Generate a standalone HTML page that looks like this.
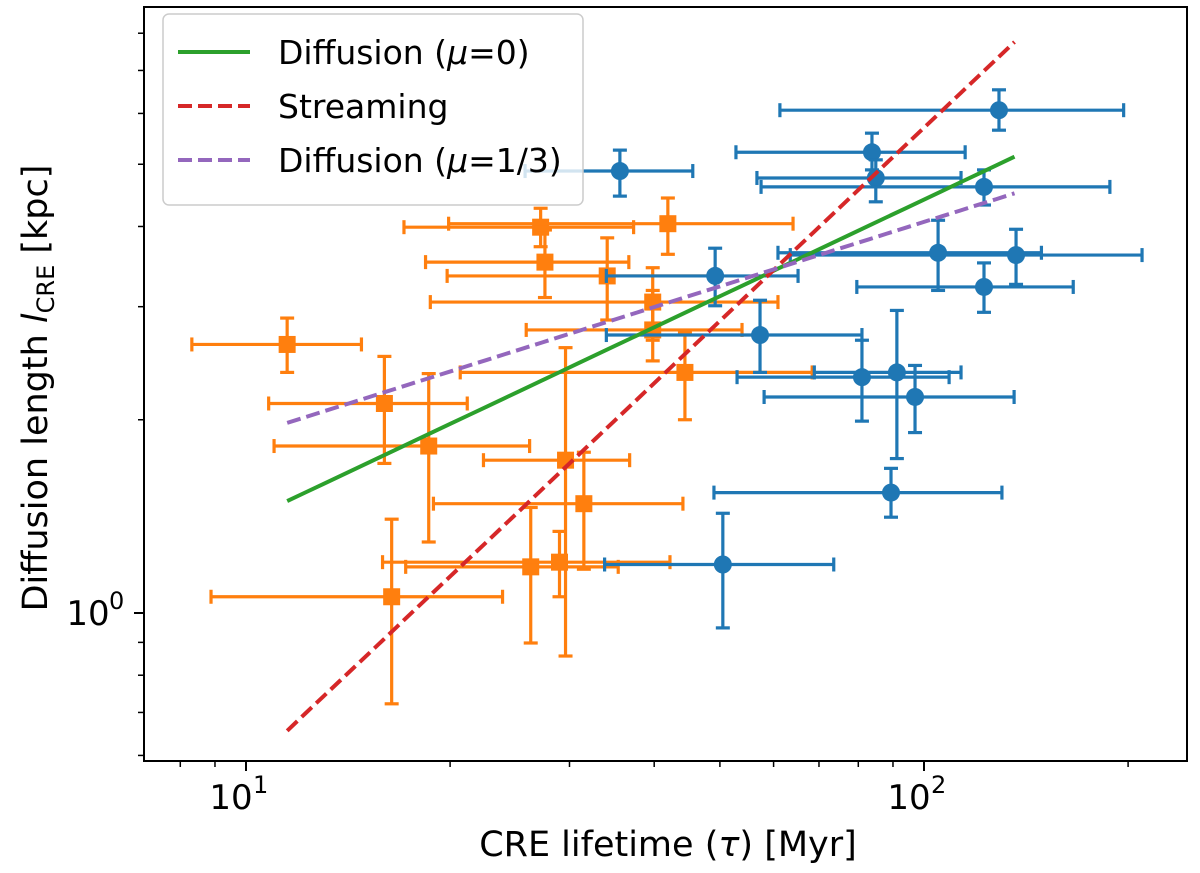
<!DOCTYPE html>
<html><head><meta charset="utf-8"><style>
body{margin:0;background:#fff}
svg{display:block;font-family:"DejaVu Sans","Liberation Sans",sans-serif}
</style></head><body>
<svg id="chart" width="1200" height="873" viewBox="0 0 1200 873">
<g id="plot"></g>
</svg>
<script>
// --- data (τ in Myr, l in kpc) ---
const orangeTau   = [11.5,16.0,18.6,27.2,27.6,41.9,34.1,39.8,39.8,44.4,29.6,31.5,26.3,29.0,16.4];
const orangeTauLo = [8.32,10.8,11.0,17.1,18.4,19.9,19.8,18.7,25.9,20.7,22.4,18.9,17.2,15.9,8.88];
const orangeTauHi = [14.8,21.2,26.2,37.3,36.7,64.1,50.0,60.9,53.9,68.4,36.8,44.1,35.4,42.2,23.9];
const orangeL     = [2.62,2.12,1.82,3.99,3.52,4.04,3.35,3.05,2.76,2.37,1.73,1.48,1.18,1.20,1.06];
const orangeLLo   = [2.37,1.71,1.29,3.72,3.10,3.62,2.86,2.66,2.47,2.00,0.857,1.17,0.898,1.06,0.722];
const orangeLHi   = [2.88,2.51,2.36,4.27,3.95,4.43,3.84,3.45,3.18,2.73,2.59,1.78,1.46,1.34,1.40];

const blueTau   = [35.6,49.2,57.3,81.0,91.2,97.0,89.4,50.5,129.0,83.8,84.9,122.6,104.9,136.7,122.6];
const blueTauLo = [25.8,34.0,34.0,53.0,68.9,58.1,49.0,33.8,61.3,52.8,56.7,57.5,60.9,63.5,79.6];
const blueTauHi = [45.6,65.2,81.0,108.9,113.4,135.8,130.3,73.6,197,115,113.4,188,149,209.7,166];
const blueL     = [4.88,3.35,2.71,2.33,2.37,2.17,1.54,1.19,6.07,5.22,4.76,4.61,3.64,3.61,3.22];
const blueLLo   = [4.46,3.01,2.37,1.99,1.74,1.91,1.41,0.948,5.65,4.90,4.37,4.32,3.18,3.25,2.94];
const blueLHi   = [5.26,3.70,3.07,2.66,2.96,2.43,1.68,1.43,6.53,5.59,5.08,4.90,4.09,3.96,3.51];

const modelTauRange = [11.5, 136];
const streamingCoef = [0.0570, 1];      // l = a * τ^p
const diffusion0Coef = [0.4405, 0.5];
const diffusion13Coef = [0.876, 1/3];

const xMajorTicks = [10, 100];
const xMajorLabels = ["1", "2"];
const xMinorTicks = [8,9,20,30,40,50,60,70,80,90,200];
const yMajorTicks = [1];
const yMajorLabels = ["0"];
const yMinorTicks = [0.6,0.7,0.8,0.9,2,3,4,5,6,7,8];

// --- axes ---
const L=144,R=1187,T=7,B=761;
function xs(v){return 246+678*(Math.log10(v)-1);}
function ys(v){return 613-642*Math.log10(v);}
const NS="http://www.w3.org/2000/svg";
const plot=document.getElementById('plot');
function mk(tag,attrs,parent){const e=document.createElementNS(NS,tag);for(const k in attrs)e.setAttribute(k,attrs[k]);(parent||plot).appendChild(e);return e;}

const defs=mk('defs',{});
const cp=mk('clipPath',{id:'clip'},defs);
mk('rect',{x:L,y:T,width:R-L,height:B-T},cp);

function errGroup(tau,lo,hi,l,llo,lhi,color,square,name){
  const g=mk('g',{'clip-path':'url(#clip)'});
  
  
  for(let i=0;i<tau.length;i++){
    const cx=xs(tau[i]),cy=ys(l[i]);
    const pg=mk('g',{},g);
    
    
    const st={stroke:color,'stroke-width':3.2};
    mk('line',Object.assign({x1:xs(lo[i]),x2:xs(hi[i]),y1:cy,y2:cy},st),pg);
    mk('line',Object.assign({x1:cx,x2:cx,y1:ys(llo[i]),y2:ys(lhi[i])},st),pg);
    mk('line',Object.assign({x1:xs(lo[i]),x2:xs(lo[i]),y1:cy-7,y2:cy+7},st),pg);
    mk('line',Object.assign({x1:xs(hi[i]),x2:xs(hi[i]),y1:cy-7,y2:cy+7},st),pg);
    mk('line',Object.assign({x1:cx-7,x2:cx+7,y1:ys(llo[i]),y2:ys(llo[i])},st),pg);
    mk('line',Object.assign({x1:cx-7,x2:cx+7,y1:ys(lhi[i]),y2:ys(lhi[i])},st),pg);
    if(square) mk('rect',{x:cx-8.5,y:cy-8.5,width:17,height:17,fill:color},pg);
    else mk('circle',{cx:cx,cy:cy,r:9,fill:color},pg);
  }
}
errGroup(orangeTau,orangeTauLo,orangeTauHi,orangeL,orangeLLo,orangeLHi,'#ff7f0e',true,'orange');
errGroup(blueTau,blueTauLo,blueTauHi,blueL,blueLLo,blueLHi,'#1f77b4',false,'blue');

function modelLine(coef,color,dash,name){
  const pts=[];
  for(let k=0;k<=40;k++){
    const lt=Math.log10(modelTauRange[0])+(Math.log10(modelTauRange[1])-Math.log10(modelTauRange[0]))*k/40;
    const t=Math.pow(10,lt);
    pts.push(xs(t).toFixed(1)+','+ys(coef[0]*Math.pow(t,coef[1])).toFixed(1));
  }
  const p=mk('polyline',{points:pts.join(' '),fill:'none',stroke:color,'stroke-width':4,'stroke-dasharray':dash});
  
  
}
modelLine(diffusion0Coef,'#2ca02c','none','diffusion-mu0-line');
modelLine(streamingCoef,'#d62728','14,6','streaming-line');
modelLine(diffusion13Coef,'#9467bd','14,6','diffusion-mu13-line');

const fr=mk('rect',{x:L,y:T,width:R-L,height:B-T,fill:'none',stroke:'#000','stroke-width':2});



xMajorTicks.forEach((v,i)=>{
  const x=xs(v);
  mk('line',{x1:x,x2:x,y1:B,y2:B+10,stroke:'#000','stroke-width':2});
  const t=mk('text',{x:x-15,y:B+48,'font-size':34,'text-anchor':'middle'});
  
  
  t.textContent='10';
  const s=mk('text',{x:x+7,y:B+32,'font-size':24});
  
  
  s.textContent=xMajorLabels[i];
});
xMinorTicks.forEach(v=>{const x=xs(v);mk('line',{x1:x,x2:x,y1:B,y2:B+6,stroke:'#000','stroke-width':1.5});});
yMajorTicks.forEach((v,i)=>{
  const y=ys(v);
  mk('line',{x1:L-10,x2:L,y1:y,y2:y,stroke:'#000','stroke-width':2});
  const t=mk('text',{x:L-56,y:y+12,'font-size':34,'text-anchor':'middle'});
  
  
  t.textContent='10';
  const s=mk('text',{x:L-35,y:y-4,'font-size':24});
  
  
  s.textContent=yMajorLabels[i];
});
yMinorTicks.forEach(v=>{const y=ys(v);mk('line',{x1:L-6,x2:L,y1:y,y2:y,stroke:'#000','stroke-width':1.5});});
</script>
<svg width="1200" height="873" style="position:absolute;left:0;top:0" viewBox="0 0 1200 873">
<text x="668" y="856" font-size="35" text-anchor="middle" font-family="DejaVu Sans, Liberation Sans, sans-serif">CRE lifetime (<tspan font-style="italic">τ</tspan>) [Myr]</text>
<text transform="translate(47,388) rotate(-90)" font-size="35" text-anchor="middle" font-family="DejaVu Sans, Liberation Sans, sans-serif">Diffusion length <tspan font-style="italic">l</tspan><tspan font-size="24" dy="7">CRE</tspan><tspan dy="-7"> [kpc]</tspan></text>
<g font-family="DejaVu Sans, Liberation Sans, sans-serif" font-size="33">
<rect x="163" y="14" width="420" height="191" rx="6" fill="#fff" fill-opacity="0.8" stroke="#ccc" stroke-width="1.5"/>
<line x1="178" y1="52" x2="250" y2="52" stroke="#2ca02c" stroke-width="4"/>
<text x="278" y="64">Diffusion (<tspan font-style="italic">μ</tspan>=0)</text>
<line x1="178" y1="106" x2="250" y2="106" stroke="#d62728" stroke-width="4" stroke-dasharray="14,6"/>
<text x="278" y="118">Streaming</text>
<line x1="178" y1="160" x2="250" y2="160" stroke="#9467bd" stroke-width="4" stroke-dasharray="14,6"/>
<text x="278" y="172">Diffusion (<tspan font-style="italic">μ</tspan>=1/3)</text>
</g>
</svg>
</body></html>
